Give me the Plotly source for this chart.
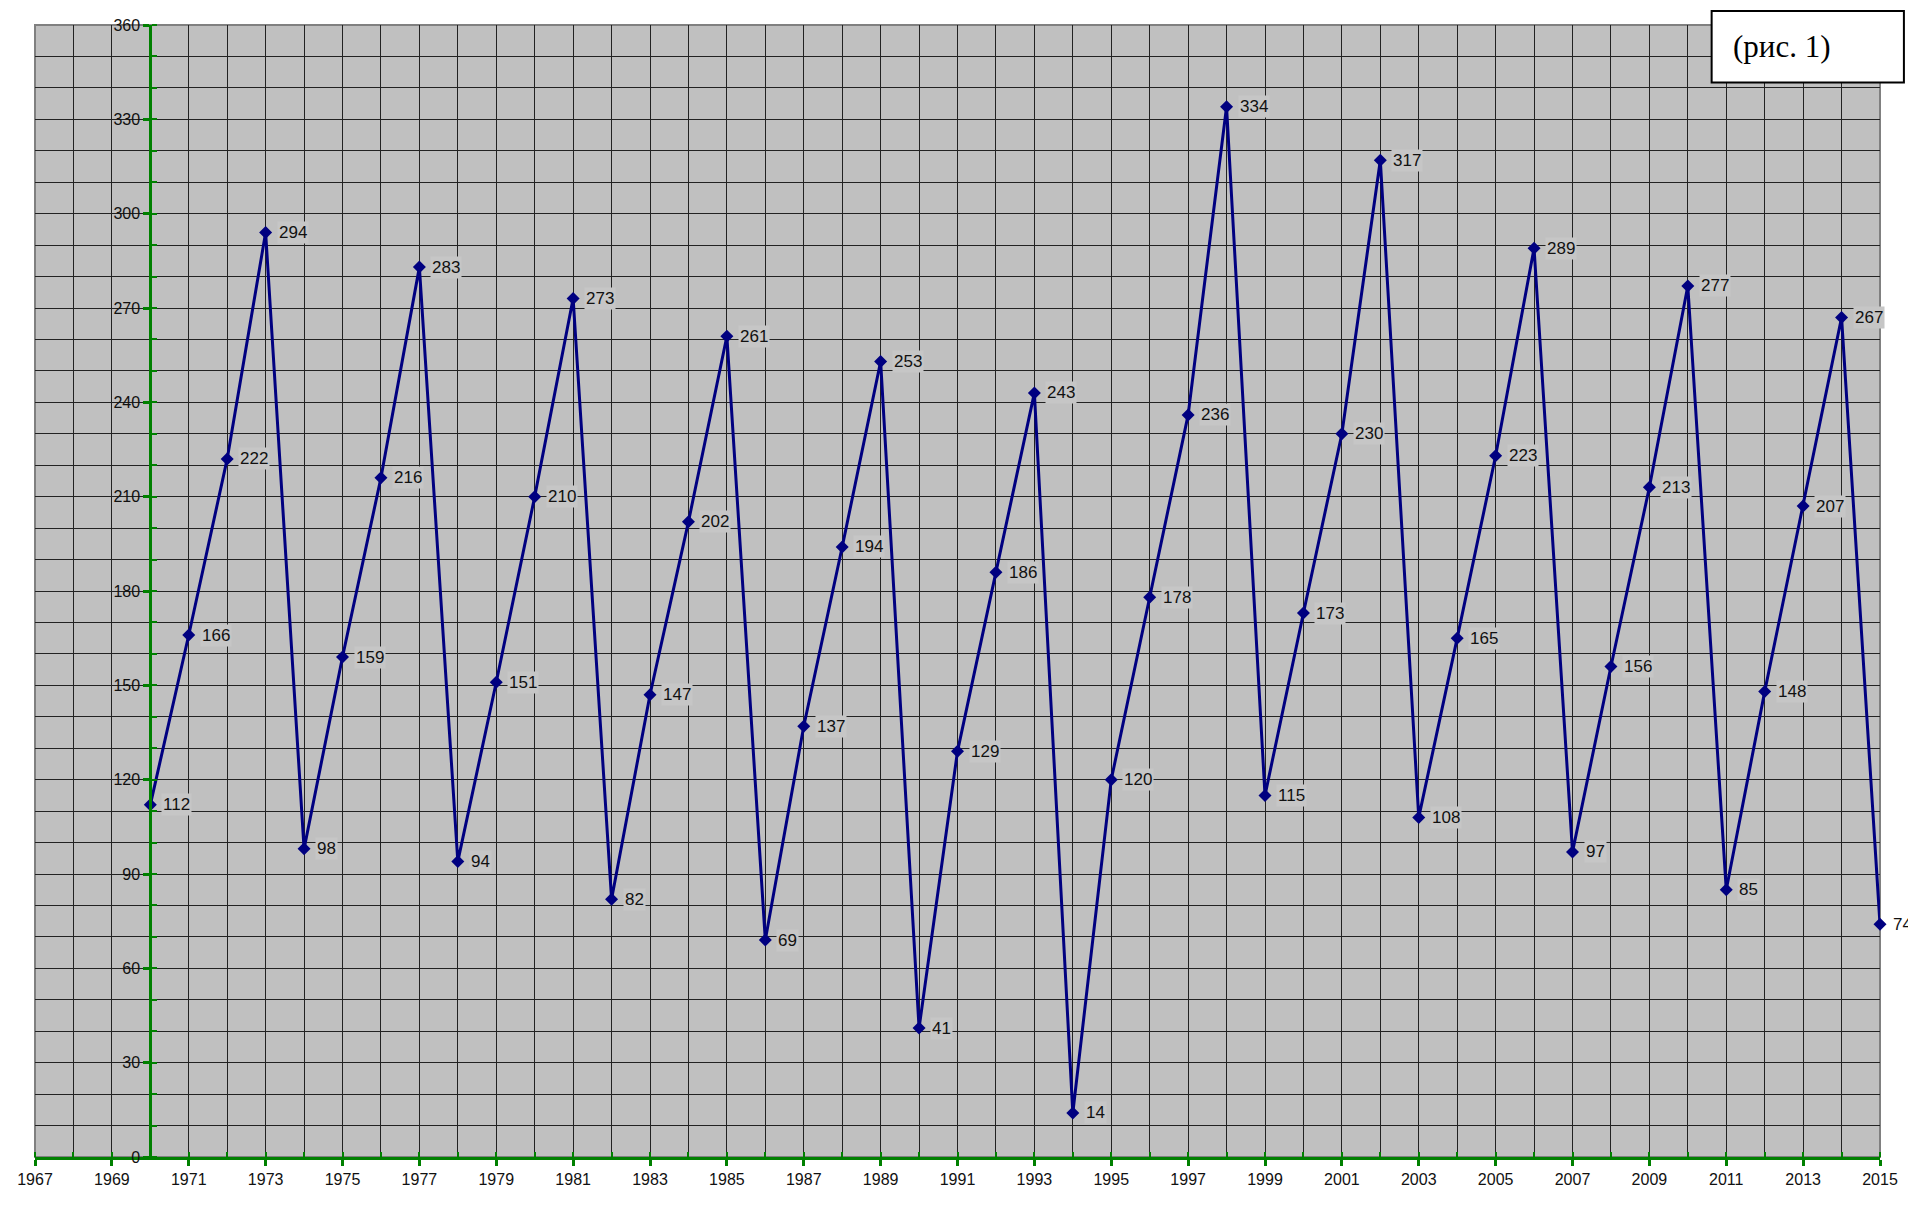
import plotly.graph_objects as go

years = list(range(1970, 2016))
values = [112, 166, 222, 294, 98, 159, 216, 283, 94, 151, 210, 273, 82, 147, 202, 261,
          69, 137, 194, 253, 41, 129, 186, 243, 14, 120, 178, 236, 334, 115, 173, 230,
          317, 108, 165, 223, 289, 97, 156, 213, 277, 85, 148, 207, 267, 74]
x_tick_labels = [str(y) for y in range(1967, 2016, 2)]
y_tick_vals = list(range(0, 361, 30))
fig_label = "(рис. 1)"

# page body has an 8px margin; figure is sized so the page does not scroll
OFF = 8
W, H = 1908, 1196
ml, mr, mt, mb = 28 - OFF, 36, 17 - OFF, 47
pw = W - ml - mr
ph = H - mt - mb


def px(sx):
    return (sx - OFF - ml) / pw


def py(sy):
    return (H - mb - (sy - OFF)) / ph


fig = go.Figure()
fig.add_trace(go.Scatter(
    x=years, y=values, mode="lines+markers",
    line=dict(color="#000080", width=3),
    marker=dict(symbol="diamond", size=10, color="#000080"),
    cliponaxis=False, showlegend=False, hoverinfo="x+y",
))

annotations = []
for i, (xv, yv) in enumerate(zip(years, values)):
    last = i == len(years) - 1
    annotations.append(dict(
        x=xv, y=yv, xref="x", yref="y", text=str(yv), showarrow=False,
        xanchor="left", yanchor="middle", xshift=11,
        font=dict(family="Arial, Liberation Sans, sans-serif", size=17, color="#111111"),
        bgcolor="white" if last else "#C6C6C6", borderpad=1,
    ))

annotations.append(dict(
    x=px(1730), y=py(39), xref="paper", yref="paper", text=fig_label, showarrow=False,
    xanchor="left", yanchor="middle",
    font=dict(family="Liberation Serif, Times New Roman, serif", size=31, color="black"),
))

shapes = [
    dict(type="rect", xref="paper", yref="paper", x0=0, x1=1, y0=0, y1=1,
         line=dict(color="#808080", width=2), fillcolor="rgba(0,0,0,0)", layer="below"),
    dict(type="rect", xref="paper", yref="paper",
         x0=px(1711), x1=px(1904), y0=py(75), y1=py(3),
         line=dict(color="black", width=2), fillcolor="white", layer="above"),
]

fig.update_layout(
    width=W, height=H,
    margin=dict(l=ml, r=mr, t=mt, b=mb, pad=0),
    paper_bgcolor="white", plot_bgcolor="#C0C0C0",
    font=dict(family="Arial, Liberation Sans, sans-serif", size=16, color="black"),
    annotations=annotations, shapes=shapes,
    xaxis=dict(
        range=[1967, 2015], domain=[0, 1], tickmode="array",
        tickvals=list(range(1967, 2016, 2)), ticktext=x_tick_labels,
        showline=True, linecolor="#008000", linewidth=3,
        ticks="outside", ticklen=6, tickwidth=3, tickcolor="#008000",
        showgrid=True, gridcolor="#222222", gridwidth=1,
        minor=dict(dtick=1, tick0=1967, ticks="inside", ticklen=5, tickwidth=2,
                   tickcolor="#008000", showgrid=True, gridcolor="#222222", gridwidth=1),
        zeroline=False, fixedrange=True,
        tickfont=dict(size=16, color="#111111"),
    ),
    yaxis=dict(
        range=[0, 360], anchor="free", position=(1970 - 1967) / (2015 - 1967),
        tickmode="array", tickvals=y_tick_vals,
        showline=True, linecolor="#008000", linewidth=3,
        ticks="outside", ticklen=6, tickwidth=3, tickcolor="#008000",
        showgrid=True, gridcolor="#222222", gridwidth=1,
        minor=dict(dtick=10, tick0=0, ticks="inside", ticklen=5, tickwidth=2,
                   tickcolor="#008000", showgrid=True, gridcolor="#222222", gridwidth=1),
        zeroline=False, fixedrange=True,
        tickfont=dict(size=16, color="#111111"),
    ),
)

fig.write_html("out.html")
